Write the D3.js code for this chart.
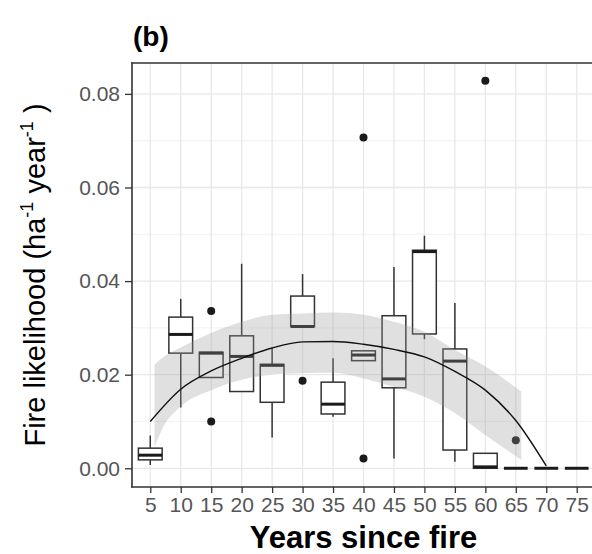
<!DOCTYPE html>
<html>
<head>
<meta charset="utf-8">
<script src="https://cdn.jsdelivr.net/npm/d3@7/dist/d3.min.js"></script>
<style>
  body { margin: 0; background: #fff; }
  text { font-family: "Liberation Sans", Arial, sans-serif; }
</style>
</head>
<body>
<svg id="svgCanvas" width="592" height="554"></svg>
<script>
// ---------------- DATA ----------------
const years = [5, 10, 15, 20, 25, 30, 35, 40, 45, 50, 55, 60, 65, 70, 75];

// box statistics per year: lower whisker, Q1, median, Q3, upper whisker
const whiskerLow = [0.0007, 0.0130, 0.0194, 0.0164, 0.0066, 0.0303, 0.0110, 0.0230, 0.0021, 0.0276, 0.0014, 0, 0, 0, 0];
const q1 = [0.0018, 0.0246, 0.0194, 0.0164, 0.0141, 0.0303, 0.0116, 0.0230, 0.0172, 0.0287, 0.0039, 0, 0, 0, 0];
const medians = [0.0028, 0.0286, 0.0246, 0.0239, 0.0220, 0.0303, 0.0137, 0.0242, 0.0191, 0.0463, 0.0229, 0.0003, 0, 0, 0];
const q3 = [0.0043, 0.0323, 0.0248, 0.0283, 0.0222, 0.0368, 0.0184, 0.0251, 0.0326, 0.0466, 0.0255, 0.0032, 0, 0, 0];
const whiskerHigh = [0.0070, 0.0362, 0.0248, 0.0437, 0.0256, 0.0415, 0.0235, 0.0251, 0.0430, 0.0497, 0.0353, 0.0032, 0, 0, 0];

// outliers
const outlierYears = [15, 15, 30, 40, 40, 60, 65];
const outlierValues = [0.0336, 0.0100, 0.0187, 0.0707, 0.0021, 0.0828, 0.0060];

// fitted curve
const fitYears = [5, 10, 15, 20, 25, 30, 35, 40, 45, 50, 55, 60, 65, 70];
const fitValues = [0.0100, 0.0169, 0.0208, 0.0235, 0.0257, 0.0270, 0.0271, 0.0265, 0.0254, 0.0238, 0.0207, 0.0167, 0.0102, 0.0005];

// confidence band
const bandYears = [5.7, 7, 10, 15, 20, 25, 30, 35, 40, 45, 50, 55, 60, 65.9];
const bandLow = [0.0046, 0.0085, 0.0132, 0.0167, 0.0189, 0.0200, 0.0203, 0.0204, 0.0192, 0.0174, 0.0153, 0.0118, 0.0071, 0.0018];
const bandHigh = [0.0221, 0.0236, 0.0258, 0.0289, 0.0313, 0.0328, 0.0331, 0.0333, 0.0328, 0.0313, 0.0292, 0.0253, 0.0218, 0.0164];

const yTicks = [0, 0.02, 0.04, 0.06, 0.08];
const yMinor = [0.01, 0.03, 0.05, 0.07];

const svg = d3.select("#svgCanvas");

// ---------------- SCALES ----------------
const panelLeft = 132, panelRight = 595, panelTop = 63, panelBottom = 487;

const x = d3.scalePoint().domain(years).range([panelLeft, panelRight]).padding(0.6);
const xNum = d3.scaleLinear().domain([5, 75]).range([x(5), x(75)]);
const y = d3.scaleLinear().domain([-0.0040, 0.0866]).range([panelBottom, panelTop]);
const boxW = x.step() * 0.78;

// ---------------- GRID ----------------
const grid = svg.append("g");
grid.selectAll(".minor")
  .data(yMinor)
  .join("line")
  .attr("x1", panelLeft).attr("x2", panelRight)
  .attr("y1", d => y(d)).attr("y2", d => y(d))
  .attr("stroke", "#efefef")
  .attr("stroke-width", 0.9);

grid.selectAll(".major")
  .data(yTicks)
  .join("line")
  .attr("x1", panelLeft).attr("x2", panelRight)
  .attr("y1", d => y(d)).attr("y2", d => y(d))
  .attr("stroke", "#e8e8e8")
  .attr("stroke-width", 1.3);

grid.selectAll(".vmajor")
  .data(years)
  .join("line")
  .attr("x1", d => x(d)).attr("x2", d => x(d))
  .attr("y1", panelTop).attr("y2", panelBottom)
  .attr("stroke", "#e8e8e8")
  .attr("stroke-width", 1.3);

// ---------------- BOXES ----------------
const boxes = svg.append("g");
years.forEach((yr, i) => {
  const cx = x(yr);
  // whiskers
  boxes.append("line")
    .attr("x1", cx).attr("x2", cx)
    .attr("y1", y(q3[i])).attr("y2", y(whiskerHigh[i]))
    .attr("stroke", "#333").attr("stroke-width", 1.5);
  boxes.append("line")
    .attr("x1", cx).attr("x2", cx)
    .attr("y1", y(q1[i])).attr("y2", y(whiskerLow[i]))
    .attr("stroke", "#333").attr("stroke-width", 1.5);
  // box
  boxes.append("rect")
    .attr("x", cx - boxW / 2)
    .attr("y", y(q3[i]))
    .attr("width", boxW)
    .attr("height", Math.max(0, y(q1[i]) - y(q3[i])))
    .attr("fill", "white")
    .attr("stroke", "#333")
    .attr("stroke-width", 1.5);
  // median
  boxes.append("line")
    .attr("x1", cx - boxW / 2).attr("x2", cx + boxW / 2)
    .attr("y1", y(medians[i])).attr("y2", y(medians[i]))
    .attr("stroke", "#1a1a1a").attr("stroke-width", 3);
});

// ---------------- OUTLIERS ----------------
svg.append("g")
  .selectAll("circle")
  .data(outlierYears)
  .join("circle")
  .attr("cx", d => x(d))
  .attr("cy", (d, i) => y(outlierValues[i]))
  .attr("r", 4)
  .attr("fill", "#1a1a1a");

// ---------------- SMOOTH BAND + LINE ----------------
const area = d3.area()
  .x(d => xNum(d))
  .y0((d, i) => y(bandLow[i]))
  .y1((d, i) => y(bandHigh[i]))
  .curve(d3.curveMonotoneX);

svg.append("path")
  .attr("d", area(bandYears))
  .attr("fill", "#999999")
  .attr("fill-opacity", 0.3);

const line = d3.line()
  .x(d => xNum(d))
  .y((d, i) => y(fitValues[i]))
  .curve(d3.curveMonotoneX);

svg.append("path")
  .attr("d", line(fitYears))
  .attr("fill", "none")
  .attr("stroke", "#111")
  .attr("stroke-width", 1.4);

// ---------------- PANEL BORDER (right side runs off the picture) ----------------
const border = [
  [panelLeft, panelTop, panelRight, panelTop],
  [panelLeft, panelTop, panelLeft, panelBottom],
  [panelLeft, panelBottom, panelRight, panelBottom]
];
svg.append("g")
  .selectAll("line")
  .data(border)
  .join("line")
  .attr("x1", d => d[0]).attr("y1", d => d[1])
  .attr("x2", d => d[2]).attr("y2", d => d[3])
  .attr("stroke", "#333")
  .attr("stroke-width", 1.6)
  .attr("stroke-linecap", "square");

// ---------------- AXES ----------------
const yAxis = svg.append("g")
  .attr("transform", `translate(${panelLeft},0)`)
  .call(d3.axisLeft(y).tickValues(yTicks).tickFormat(d3.format(".2f")).tickSize(7).tickPadding(5));
yAxis.select(".domain").remove();
yAxis.selectAll("line").attr("stroke", "#333").attr("stroke-width", 1.3);
yAxis.selectAll("text")
  .attr("fill", "#555")
  .style("font-size", "21px")
  .style("font-family", "'Liberation Sans', Arial, sans-serif");

const xAxis = svg.append("g")
  .attr("transform", `translate(0,${panelBottom})`)
  .call(d3.axisBottom(x).tickSize(6).tickPadding(4));
xAxis.select(".domain").remove();
xAxis.selectAll("line").attr("stroke", "#333").attr("stroke-width", 1.3);
xAxis.selectAll("text")
  .attr("fill", "#555")
  .style("font-size", "21px")
  .style("font-family", "'Liberation Sans', Arial, sans-serif");

// ---------------- TITLES ----------------
svg.append("text")
  .attr("x", 133)
  .attr("y", 46)
  .attr("font-size", 28)
  .attr("font-weight", "bold")
  .attr("fill", "#000")
  .text("(b)");

svg.append("text")
  .attr("x", (panelLeft + panelRight) / 2)
  .attr("y", 548)
  .attr("text-anchor", "middle")
  .attr("font-size", 31)
  .attr("font-weight", "bold")
  .attr("fill", "#000")
  .text("Years since fire");

const yLab = svg.append("text")
  .attr("transform", `translate(45,${(panelTop + panelBottom) / 2}) rotate(-90)`)
  .attr("text-anchor", "middle")
  .attr("font-size", 29)
  .attr("fill", "#000");
yLab.append("tspan").text("Fire likelihood (ha");
yLab.append("tspan").attr("font-size", 18).attr("dy", -12).text("-1");
yLab.append("tspan").attr("dy", 12).text(" year");
yLab.append("tspan").attr("font-size", 18).attr("dy", -12).text("-1");
yLab.append("tspan").attr("dy", 12).text(" )");
</script>
</body>
</html>
